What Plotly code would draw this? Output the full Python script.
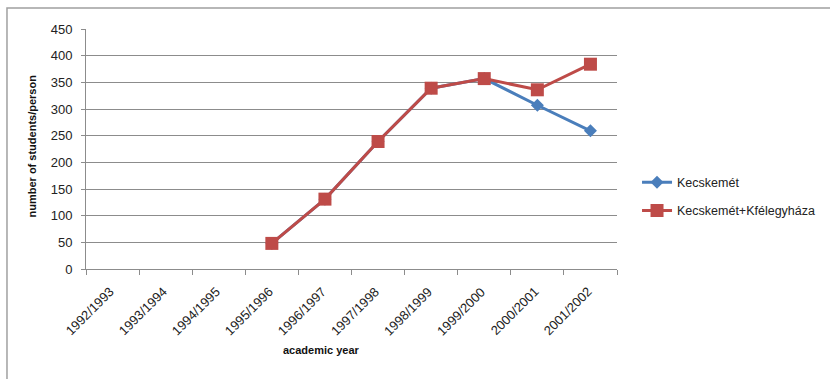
import plotly.graph_objects as go

years = ["1992/1993", "1993/1994", "1994/1995", "1995/1996", "1996/1997",
         "1997/1998", "1998/1999", "1999/2000", "2000/2001", "2001/2002"]
kecskemet = [None, None, None, 48, 131, 239, 339, 357, 307, 259]
kecskemet_kfh = [None, None, None, 48, 131, 239, 339, 357, 336, 384]

font_family = "Liberation Sans, Arial, sans-serif"
grid_col = "#8c8c8c"

fig = go.Figure()
fig.add_trace(go.Scatter(
    x=years, y=kecskemet, name="Kecskemét", mode="lines+markers",
    legendgroup="a",
    line=dict(color="#4a7ebb", width=3),
    marker=dict(symbol="diamond", size=10, color="#4a7ebb"),
))
fig.add_trace(go.Scatter(
    x=years, y=kecskemet_kfh, name="Kecskemét+Kfélegyháza", mode="lines+markers",
    legendgroup="b",
    line=dict(color="#be4b48", width=3),
    marker=dict(symbol="square", size=13, color="#be4b48"),
))

# outer chart frame
fig.add_shape(type="rect", xref="paper", yref="paper",
              x0=-0.1488, x1=1.5, y0=-0.6, y1=1.0875,
              line=dict(color="#a0a0a0", width=1.5), layer="below")

# rotated category labels, anchored by their top-right corner below each category
for yr in years:
    fig.add_annotation(text=yr, xref="x", yref="paper", x=yr, y=-0.058,
                       xanchor="right", yanchor="top", xshift=5, textangle=-45,
                       showarrow=False, borderpad=0,
                       font=dict(size=13, color="#222"))

# axis titles
fig.add_annotation(text="<b>number of students/person</b>", xref="paper", yref="paper",
                   x=-0.1017, y=0.5146, xanchor="center", yanchor="middle",
                   textangle=-90, showarrow=False, font=dict(size=11, color="#111"))
fig.add_annotation(text="<b>academic year</b>", xref="paper", yref="paper",
                   x=0.4435, y=-0.3375, xanchor="center", yanchor="middle",
                   showarrow=False, font=dict(size=11, color="#111"))

fig.update_layout(
    width=830, height=379,
    margin=dict(l=86, r=213, t=29, b=110, autoexpand=False),
    plot_bgcolor="white", paper_bgcolor="white",
    font=dict(family=font_family, size=13, color="#222"),
    showlegend=True,
    legend=dict(xref="container", yref="container", x=0.7675, y=0.4815,
                xanchor="left", yanchor="middle",
                font=dict(size=12.5, family=font_family), tracegroupgap=9,
                bgcolor="rgba(0,0,0,0)"),
    xaxis=dict(
        type="category", categoryorder="array", categoryarray=years,
        range=[-0.5, len(years) - 0.5],
        tickson="boundaries", ticks="outside", ticklen=5, showticklabels=False,
        tickcolor=grid_col, showline=True, linecolor=grid_col, linewidth=1,
        showgrid=False, automargin=False,
    ),
    yaxis=dict(
        range=[0, 450], dtick=50, showgrid=True, gridcolor=grid_col, gridwidth=1,
        showline=True, linecolor=grid_col, ticks="outside", ticklen=4,
        tickcolor=grid_col, zeroline=False, tickfont=dict(size=13),
        ticklabelstandoff=6, automargin=False,
    ),
)

fig.write_html("out.html")
